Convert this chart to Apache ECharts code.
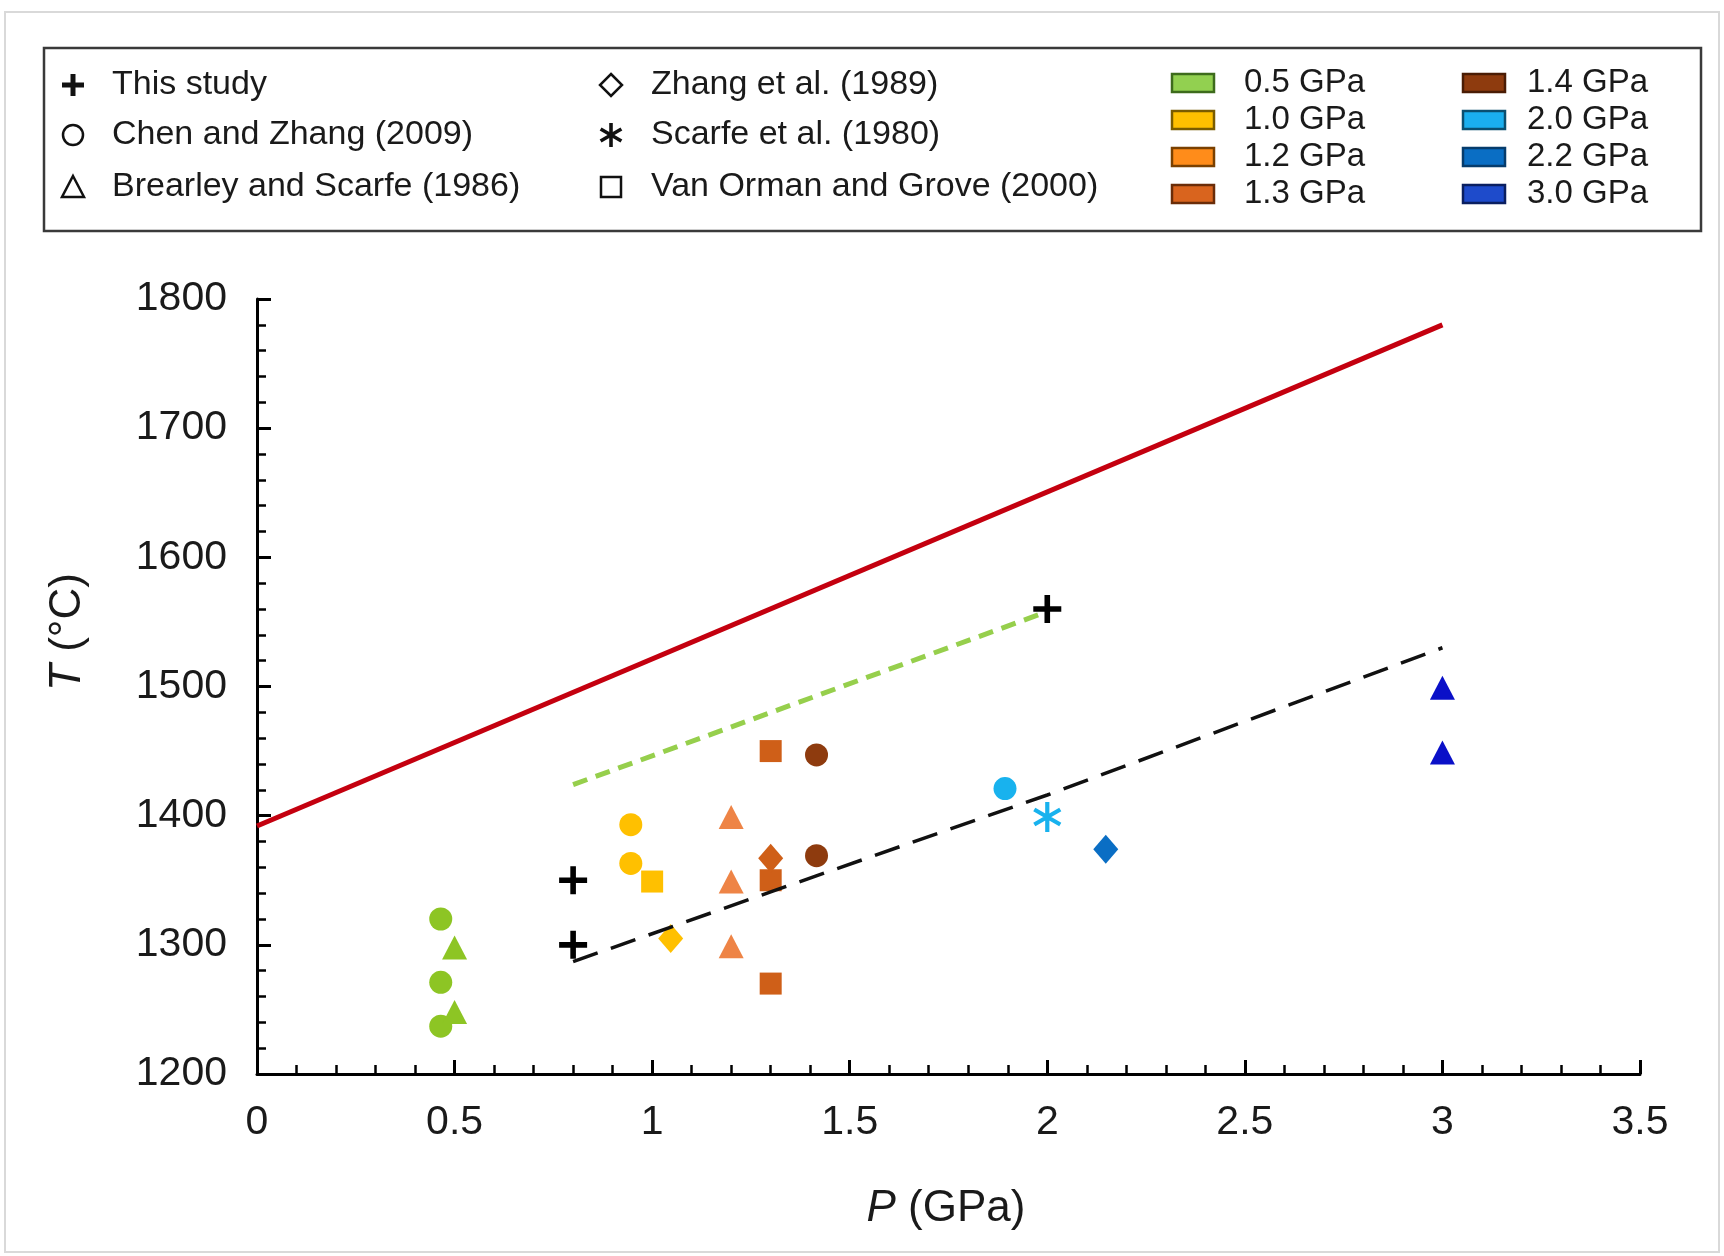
<!DOCTYPE html>
<html>
<head>
<meta charset="utf-8">
<script src="https://cdn.jsdelivr.net/npm/echarts@6/dist/echarts.min.js"></script>
<style>
html,body{margin:0;padding:0;background:#fff;}
#chart{width:1724px;height:1256px;}
</style>
</head>
<body>
<div id="chart"></div>
<script>
// ---------------- DATA ----------------
const xTicks = [0, 0.5, 1, 1.5, 2, 2.5, 3, 3.5];
const yTicks = [1200, 1300, 1400, 1500, 1600, 1700, 1800];
const pressureLabels = ['0.5 GPa','1.0 GPa','1.2 GPa','1.3 GPa','1.4 GPa','2.0 GPa','2.2 GPa','3.0 GPa'];
const studyLabels = ['This study','Chen and Zhang (2009)','Brearley and Scarfe (1986)','Zhang et al. (1989)','Scarfe et al. (1980)','Van Orman and Grove (2000)'];

// [P (GPa), T (°C), pressure group]
const thisStudy = [[0.8,1350],[0.8,1300],[2.0,1560]];
const chenZhang = [[0.465,1320,'0.5 GPa'],[0.465,1271,'0.5 GPa'],[0.465,1237,'0.5 GPa'],
                   [0.946,1393,'1.0 GPa'],[0.946,1363,'1.0 GPa'],
                   [1.416,1447,'1.4 GPa'],[1.416,1369,'1.4 GPa'],
                   [1.893,1421,'2.0 GPa']];
const brearleyScarfe = [[0.5,1298,'0.5 GPa'],[0.5,1248,'0.5 GPa'],
                        [1.2,1399,'1.2 GPa'],[1.2,1349,'1.2 GPa'],[1.2,1299,'1.2 GPa'],
                        [3.0,1499,'3.0 GPa'],[3.0,1449,'3.0 GPa']];
const zhang1989 = [[1.047,1305,'1.0 GPa'],[1.3,1367,'1.3 GPa'],[2.148,1374,'2.2 GPa']];
const scarfe1980 = [[2.0,1399,'2.0 GPa']];
const vanOrmanGrove = [[1.0,1349,'1.0 GPa'],[1.3,1450,'1.3 GPa'],[1.3,1350,'1.3 GPa'],[1.3,1270,'1.3 GPa']];

const redLine = [[0,1392],[3.0,1780]];
const greenDashed = [[0.8,1424],[2.0,1558]];
const blackDashed = [[0.8,1287],[1.3,1341],[2.0,1416],[3.0,1530]];

// ---------------- STYLE ----------------
const FONT = 'Liberation Sans, Arial, sans-serif';
const pColors = {
  '0.5 GPa':'#8DC524','1.0 GPa':'#FFC000','1.2 GPa':'#EE8446','1.3 GPa':'#CF5F18',
  '1.4 GPa':'#8E3B0E','2.0 GPa':'#18B2EE','2.2 GPa':'#0A6EC4','3.0 GPa':'#0A10C8'
};
const swatchColors = {
  '0.5 GPa':['#92D050','#3d6b1c'],'1.0 GPa':['#FFC000','#7a5c00'],'1.2 GPa':['#FF8C1A','#7a4000'],
  '1.3 GPa':['#D9641E','#6a2c08'],'1.4 GPa':['#8E3B0E','#4a1c04'],'2.0 GPa':['#1AAFEF','#0a4f70'],
  '2.2 GPa':['#0A6EC4','#063c6c'],'3.0 GPa':['#1E4BCB','#0a1f60']
};

const plusPath = 'path://M40,0H60V40H100V60H60V100H40V60H0V40H40Z';
function asteriskPath(){
  const L=50, w=7, parts=[];
  [0,60,-60].forEach(function(a){
    const r=a*Math.PI/180, d=[Math.sin(r),-Math.cos(r)], n=[-d[1],d[0]];
    const pts=[[L*d[0]+w*n[0],L*d[1]+w*n[1]],[L*d[0]-w*n[0],L*d[1]-w*n[1]],
               [-L*d[0]-w*n[0],-L*d[1]-w*n[1]],[-L*d[0]+w*n[0],-L*d[1]+w*n[1]]];
    parts.push('M'+pts.map(function(p){return (p[0]+60).toFixed(2)+','+(p[1]+60).toFixed(2);}).join('L')+'Z');
  });
  return 'path://'+parts.join('');
}

function colored(arr){
  return arr.map(function(d){
    return {value:[d[0],d[1]], itemStyle:{color:pColors[d[2]], opacity:1}};
  });
}

const chart = echarts.init(document.getElementById('chart'), null, {renderer:'canvas'});

const G = {left:257, top:299, width:1383, height:775};

// ---------------- LEGEND (graphic) ----------------
const gfx = [];
gfx.push({type:'rect', shape:{x:5,y:12,width:1714,height:1240}, style:{fill:'none',stroke:'#d9d9d9',lineWidth:2}, silent:true});
gfx.push({type:'rect', shape:{x:44,y:48,width:1657,height:183}, style:{fill:'#fff',stroke:'#3a3a3a',lineWidth:2.5}, silent:true});
const rowsY=[85,135,187];
function legText(x,y,t){ gfx.push({type:'text', x:x, y:y, style:{text:t, fill:'#1a1a1a', font:'34px '+FONT, textVerticalAlign:'middle', textAlign:'left'}}); }
// column 1
gfx.push({type:'rect', shape:{x:62,y:82.5,width:22,height:5}, style:{fill:'#111'}});
gfx.push({type:'rect', shape:{x:70.5,y:74,width:5,height:22}, style:{fill:'#111'}});
legText(112,rowsY[0],studyLabels[0]);
gfx.push({type:'circle', shape:{cx:73,cy:rowsY[1],r:10}, style:{fill:'none',stroke:'#111',lineWidth:2.5}});
legText(112,rowsY[1],studyLabels[1]);
gfx.push({type:'polygon', shape:{points:[[73,rowsY[2]-11],[84,rowsY[2]+10],[62,rowsY[2]+10]]}, style:{fill:'none',stroke:'#111',lineWidth:2.5}});
legText(112,rowsY[2],studyLabels[2]);
// column 2
gfx.push({type:'polygon', shape:{points:[[611,rowsY[0]-11],[622,rowsY[0]],[611,rowsY[0]+11],[600,rowsY[0]]]}, style:{fill:'none',stroke:'#111',lineWidth:2.5}});
legText(651,rowsY[0],studyLabels[3]);
(function(){
  const cx=611, cy=rowsY[1], L=12, w=1.8;
  [0,60,-60].forEach(function(a){
    gfx.push({type:'rect', x:cx, y:cy, rotation:a*Math.PI/180, shape:{x:-w,y:-L,width:2*w,height:2*L}, style:{fill:'#111'}});
  });
})();
legText(651,rowsY[1],studyLabels[4]);
gfx.push({type:'rect', shape:{x:601,y:rowsY[2]-10,width:20,height:20}, style:{fill:'none',stroke:'#111',lineWidth:2.5}});
legText(651,rowsY[2],studyLabels[5]);
// pressure swatches
const swRows=[83,120,157,194];
pressureLabels.forEach(function(p,i){
  const col = i<4?0:1, row=i%4;
  const bx = col===0?1172:1463, tx = col===0?1244:1527;
  const sc = swatchColors[p];
  gfx.push({type:'rect', shape:{x:bx,y:swRows[row]-9,width:42,height:18}, style:{fill:sc[0],stroke:sc[1],lineWidth:2.5}});
  gfx.push({type:'text', x:tx, y:swRows[row], style:{text:p, fill:'#1a1a1a', font:'33px '+FONT, textVerticalAlign:'middle', textAlign:'left'}});
});

// axis titles
gfx.push({type:'text', x:946, y:1209, style:{rich:{i:{fontStyle:'italic',fontSize:44,fontFamily:FONT,fill:'#1a1a1a'},n:{fontSize:44,fontFamily:FONT,fill:'#1a1a1a'}}, text:'{i|P}{n| (GPa)}', textAlign:'center', textVerticalAlign:'middle'}});
gfx.push({type:'text', x:68, y:632, rotation:Math.PI/2, style:{rich:{i:{fontStyle:'italic',fontSize:44,fontFamily:FONT,fill:'#1a1a1a'},n:{fontSize:44,fontFamily:FONT,fill:'#1a1a1a'}}, text:'{i|T}{n| (°C)}', textAlign:'center', textVerticalAlign:'middle'}});

const option = {
  backgroundColor:'#fff',
  animation:false,
  grid:{left:G.left, top:G.top, width:G.width, height:G.height, containLabel:false},
  xAxis:{
    type:'value', min:xTicks[0], max:xTicks[xTicks.length-1], interval:0.5,
    axisLine:{show:true, onZero:false, lineStyle:{color:'#000', width:3}},
    axisTick:{show:true, inside:true, length:14, lineStyle:{color:'#000', width:3}},
    minorTick:{show:true, splitNumber:5, length:9, lineStyle:{color:'#000', width:2.5}},
    splitLine:{show:false},
    axisLabel:{fontSize:41, fontFamily:FONT, color:'#1a1a1a', margin:28,
      formatter:function(v){ return xTicks.indexOf(v)>=0 ? String(v) : ''; }}
  },
  yAxis:{
    type:'value', min:yTicks[0], max:yTicks[yTicks.length-1], interval:100,
    axisLine:{show:true, onZero:false, lineStyle:{color:'#000', width:3}},
    axisTick:{show:true, inside:true, length:14, lineStyle:{color:'#000', width:3}},
    minorTick:{show:true, splitNumber:5, length:9, lineStyle:{color:'#000', width:2.5}},
    splitLine:{show:false},
    axisLabel:{fontSize:41, fontFamily:FONT, color:'#1a1a1a', margin:30,
      formatter:function(v){ return yTicks.indexOf(v)>=0 ? String(v) : ''; }}
  },
  graphic:gfx,
  series:[
    {name:'red', type:'line', data:redLine, symbol:'none', z:3, lineStyle:{color:'#C4000F', width:5}},
    {name:'green', type:'line', data:greenDashed, symbol:'none', z:3, lineStyle:{color:'#96CF4C', width:5, type:[15,9]}},
    {name:'black', type:'line', data:blackDashed, symbol:'none', z:6, lineStyle:{color:'#111', width:3.5, type:[26,14]}},
    {name:studyLabels[1], type:'scatter', data:colored(chenZhang), symbol:'circle', symbolSize:23, z:4, itemStyle:{opacity:1}},
    {name:studyLabels[2], type:'scatter', data:colored(brearleyScarfe), symbol:'triangle', symbolSize:[25,24], z:4, itemStyle:{opacity:1}},
    {name:studyLabels[5], type:'scatter', data:colored(vanOrmanGrove), symbol:'rect', symbolSize:22, z:4, itemStyle:{opacity:1}},
    {name:studyLabels[3], type:'scatter', data:colored(zhang1989), symbol:'diamond', symbolSize:[25,29], z:5, itemStyle:{opacity:1}},
    {name:studyLabels[4], type:'scatter', data:colored(scarfe1980), symbol:asteriskPath(), symbolKeepAspect:true, symbolSize:30, z:5, itemStyle:{opacity:1}},
    {name:studyLabels[0], type:'scatter', data:thisStudy, symbol:plusPath, symbolSize:28, z:7, itemStyle:{color:'#000', opacity:1}}
  ]
};
chart.setOption(option);
</script>
</body>
</html>
